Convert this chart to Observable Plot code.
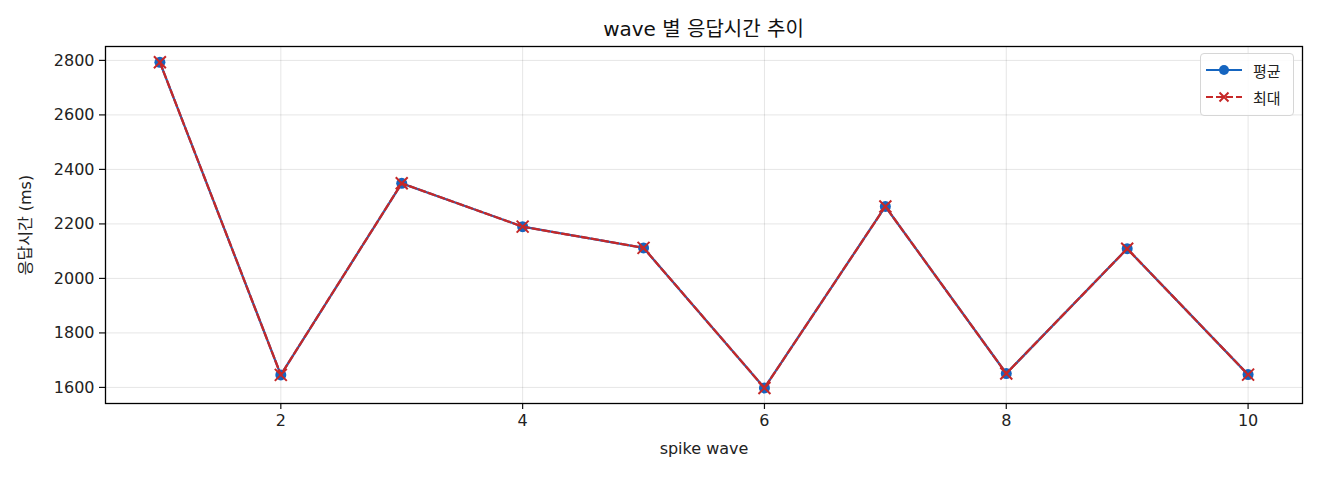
<!DOCTYPE html>
<html>
<head>
<meta charset="utf-8">
<script src="https://cdn.jsdelivr.net/npm/d3@7"></script>
<script src="https://cdn.jsdelivr.net/npm/@observablehq/plot@0.6"></script>
<style>
  html, body { margin: 0; padding: 0; background: #fff; }
  body { width: 1320px; height: 480px; position: relative; overflow: hidden; font-family: "DejaVu Sans", "Noto Sans CJK KR", sans-serif; color: #222; }
  #title { box-sizing: border-box; height: 40px; padding: 18px 18px 0 105px; line-height: 22px; font-size: 20px; text-align: center; color: #111; white-space: nowrap; }
  #legend { position: absolute; left: 1200px; top: 53px; width: 94px; height: 63px; box-sizing: border-box; border: 1px solid #d6d6d6; border-radius: 4px; background: rgba(255,255,255,0.85); }
  #legend .row { position: absolute; left: 4px; height: 20px; display: flex; align-items: center; }
  #legend .row span { font-size: 15px; margin-left: 10px; color: #222; font-family: "Noto Sans CJK KR", sans-serif; }
</style>
</head>
<body>
<div id="title">wave 별 응답시간 추이</div>
<div id="chart"></div>
<div id="legend">
  <div class="row" style="top:6px">
    <svg width="38" height="20"><line x1="1" y1="10" x2="37" y2="10" stroke="#1565C0" stroke-width="2"/><circle cx="19" cy="10" r="5" fill="#1565C0"/></svg><span>평균</span>
  </div>
  <div class="row" style="top:33px">
    <svg width="38" height="20"><line x1="1" y1="10" x2="37" y2="10" stroke="#C62828" stroke-width="2" stroke-dasharray="7,3"/><path d="M14.5,5.5L23.5,14.5M23.5,5.5L14.5,14.5" stroke="#C62828" stroke-width="2" fill="none"/></svg><span>최대</span>
  </div>
</div>
<script>
const waves = [1, 2, 3, 4, 5, 6, 7, 8, 9, 10];
const avgMs = [2793, 1646, 2349, 2190, 2112, 1598, 2264, 1651, 2109, 1647];
const maxMs = [2793, 1646, 2349, 2190, 2112, 1598, 2264, 1651, 2109, 1647];
const xTicks = [2, 4, 6, 8, 10];
const yTicks = [1600, 1800, 2000, 2200, 2400, 2600, 2800];

const avgData = waves.map((w, i) => ({wave: w, ms: avgMs[i]}));
const maxData = waves.map((w, i) => ({wave: w, ms: maxMs[i]}));

const blue = "#1565C0";
const red = "#C62828";

const chart = Plot.plot({
  width: 1320,
  height: 440,
  marginTop: 6,
  marginBottom: 77,
  marginLeft: 105,
  marginRight: 18,
  style: {fontFamily: "'DejaVu Sans', 'Noto Sans CJK KR', sans-serif", fontSize: "16px", color: "#222", background: "#fff"},
  x: {domain: [0.55, 10.45]},
  y: {domain: [1541, 2851]},
  marks: [
    Plot.gridX(xTicks, {stroke: "#000", strokeOpacity: 0.1, strokeWidth: 1}),
    Plot.gridY(yTicks, {stroke: "#000", strokeOpacity: 0.1, strokeWidth: 1}),
    Plot.axisX(xTicks, {tickSize: 6, tickPadding: 5, stroke: "#111", strokeWidth: 1.2, fontSize: 16, tickFormat: d => String(d), label: "spike wave", labelAnchor: "center", labelArrow: "none", labelOffset: 50}),
    Plot.axisY(yTicks, {tickSize: 6, tickPadding: 5, stroke: "#111", strokeWidth: 1.2, fontSize: 16, tickFormat: d => String(d), label: "응답시간 (ms)", labelAnchor: "center", labelArrow: "none", labelOffset: 86}),
    Plot.line(avgData, {x: "wave", y: "ms", stroke: blue, strokeWidth: 2.3}),
    Plot.dot(avgData, {x: "wave", y: "ms", fill: blue, r: 5.5, symbol: "circle"}),
    Plot.line(maxData, {x: "wave", y: "ms", stroke: red, strokeWidth: 2.3, strokeDasharray: "7,3"}),
    Plot.dot(maxData, {x: "wave", y: "ms", stroke: red, fill: "none", strokeWidth: 2, r: 5.5, symbol: "times"}),
    Plot.frame({stroke: "#000", strokeWidth: 1.3})
  ]
});
document.getElementById("chart").appendChild(chart);
</script>
</body>
</html>
